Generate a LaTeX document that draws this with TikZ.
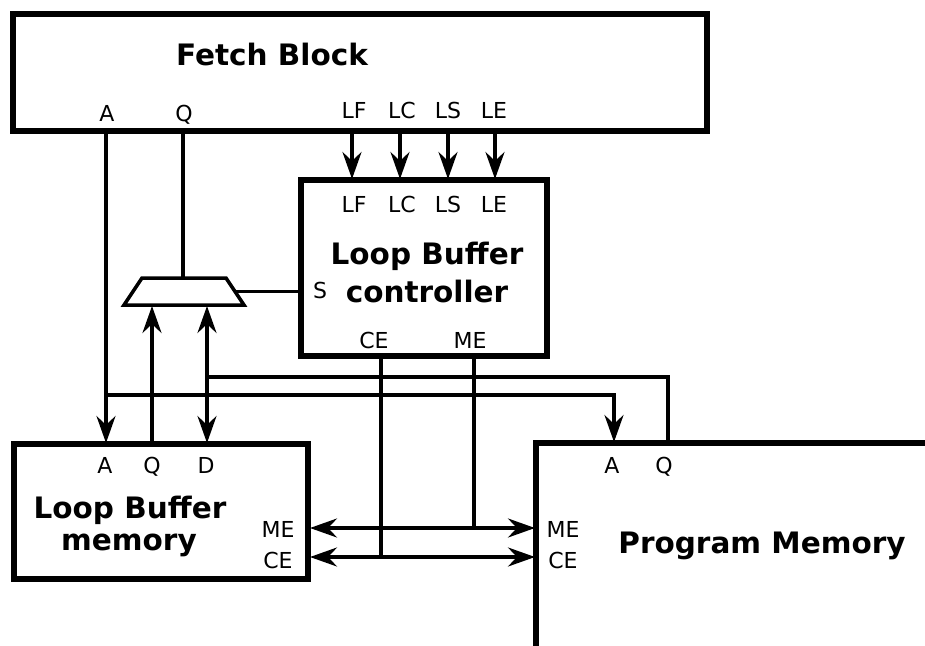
\documentclass[tikz,border=0pt]{standalone}
\usepackage{fontspec}
\setmainfont{DejaVu Sans}
\usetikzlibrary{arrows.meta}
\begin{document}
\begin{tikzpicture}[x=1pt,y=-1pt,
  box/.style={draw, line width=5.5pt, rectangle, inner sep=0pt, outer sep=0pt},
  boxline/.style={line width=5.5pt},
  wire/.style={line width=3.5pt},
  arr/.style={-{Stealth[length=27pt,width=19pt,inset=9pt]}},
  arrboth/.style={{Stealth[length=27pt,width=19pt,inset=9pt]}-{Stealth[length=27pt,width=19pt,inset=9pt]}},
  lbl/.style={font=\fontsize{22}{24}\selectfont, inner sep=0pt, anchor=base},
  ttl/.style={font=\fontsize{29.5}{33}\selectfont\bfseries, inner sep=0pt, anchor=base}]
\useasboundingbox (0,0) rectangle (925,645);
\fill[white] (0,0) rectangle (925,645);

% blocks
\node[box, minimum width=694pt, minimum height=117pt] (fetch) at (360,72.5) {};
\node[box, minimum width=246pt, minimum height=176pt] (ctrl) at (424,268) {};
\node[box, minimum width=294pt, minimum height=135pt] (lbm) at (161,511.5) {};
\coordinate (pmTR) at (930,443);
\coordinate (pmTL) at (536,443);
\coordinate (pmBL) at (536,650);
\draw[boxline] (pmTR) -- (pmTL) -- (pmBL);

% multiplexer
\coordinate (muxTL) at (142,278);
\coordinate (muxTR) at (226,278);
\coordinate (muxBR) at (244,305);
\coordinate (muxBL) at (124,305);
\draw[wire, line join=miter] (muxTL) -- (muxTR) -- (muxBR) -- (muxBL) -- cycle;
\coordinate (mT) at (183,278);
\coordinate (mB1) at (152,306);
\coordinate (mB2) at (207,306);
\coordinate (mR) at (235,291.5);

% ports
\coordinate (fA) at (106,131);
\coordinate (fQ) at (183,131);
\coordinate (lA) at (106,443);
\coordinate (lQ) at (152,444);
\coordinate (lD) at (207,443);
\coordinate (cS) at (301,291.5);
\foreach \n/\x in {LF/352,LC/400,LS/448,LE/495}{
  \coordinate (f\n) at (\x,131);
  \coordinate (c\n) at (\x,179);
}
\coordinate (cCE) at (381,356);
\coordinate (cME) at (474,356);
\coordinate (jCE) at (381,557);
\coordinate (jME) at (474,528);
\coordinate (lME) at (310,528);
\coordinate (lCE) at (310,557);
\coordinate (pME) at (535,528);
\coordinate (pCE) at (535,557);
\coordinate (j1) at (207,377);
\coordinate (j2) at (668,377);
\coordinate (pQ) at (668,443);
\coordinate (j3) at (106,395);
\coordinate (j4) at (614,395);
\coordinate (pA) at (614,442);

% wires
\draw[wire, arr] (fA) -- (lA);
\draw[wire] (fQ) -- (mT);
\foreach \n in {LF,LC,LS,LE}{ \draw[wire, arr] (f\n) -- (c\n); }
\draw[wire] (mR) -- (cS);
\draw[wire, arr] (lQ) -- (mB1);
\draw[wire, arrboth] (mB2) -- (lD);
\draw[wire] (j1) -- (j2) -- (pQ);
\draw[wire, arr] (j3) -- (j4) -- (pA);
\draw[wire] (cCE) -- (jCE);
\draw[wire] (cME) -- (jME);
\draw[wire, arrboth] (lME) -- (pME);
\draw[wire, arrboth] (lCE) -- (pCE);

% texts: fetch block
\node[ttl] (tFetch) at (272,65) {Fetch Block};
\node[lbl] (tfA) at (107,121) {A};
\node[lbl] (tfQ) at (184,121) {Q};
\node[lbl] (tfLF) at (354,118) {LF};
\node[lbl] (tfLC) at (402,118) {LC};
\node[lbl] (tfLS) at (448,118) {LS};
\node[lbl] (tfLE) at (494,118) {LE};

% controller
\node[lbl] (tcLF) at (354,212) {LF};
\node[lbl] (tcLC) at (402,212) {LC};
\node[lbl] (tcLS) at (448,212) {LS};
\node[lbl] (tcLE) at (494,212) {LE};
\node[ttl] (tCtrl1) at (427,264) {Loop Buffer};
\node[ttl] (tCtrl2) at (427,302) {controller};
\node[lbl] (tcS) at (320,298) {S};
\node[lbl] (tcCE) at (374,348) {CE};
\node[lbl] (tcME) at (470,348) {ME};

% loop buffer memory
\node[lbl] (tlA) at (105,473) {A};
\node[lbl] (tlQ) at (152,473) {Q};
\node[lbl] (tlD) at (206,473) {D};
\node[ttl] (tLbm1) at (130,518) {Loop Buffer};
\node[ttl] (tLbm2) at (129,550) {memory};
\node[lbl] (tlME) at (278,537) {ME};
\node[lbl] (tlCE) at (278,568) {CE};

% program memory
\node[lbl] (tpA) at (612,473) {A};
\node[lbl] (tpQ) at (664,473) {Q};
\node[lbl] (tpME) at (563,537) {ME};
\node[lbl] (tpCE) at (563,568) {CE};
\node[ttl] (tPm) at (762,553) {Program Memory};
\end{tikzpicture}
\end{document}
